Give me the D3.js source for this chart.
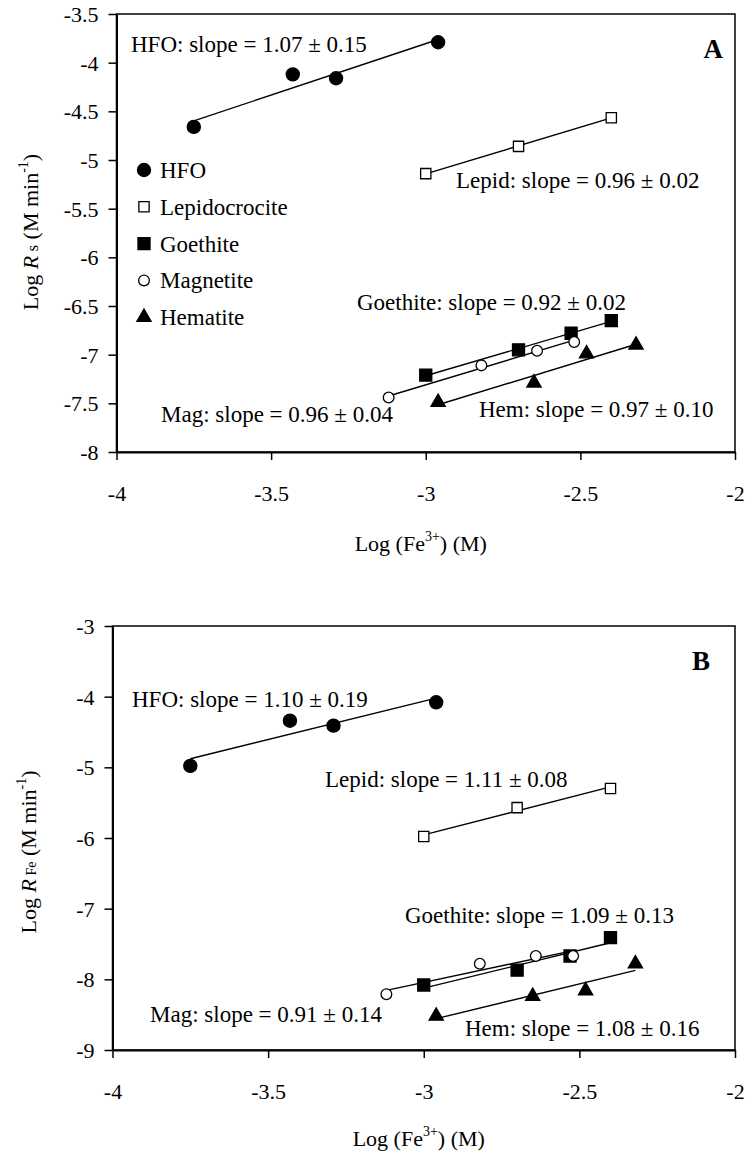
<!DOCTYPE html>
<html><head><meta charset="utf-8">
<script src="https://cdn.jsdelivr.net/npm/d3@7"></script>
<style>
html,body{margin:0;padding:0;background:#fff;}
text{font-family:"Liberation Serif","Times New Roman",serif;fill:#000;}
</style></head>
<body><svg id="c" width="747" height="1157"></svg>
<script>
// ---------- data ----------
const xTicks = [-4, -3.5, -3, -2.5, -2];
const yTicksA = [-3.5, -4, -4.5, -5, -5.5, -6, -6.5, -7, -7.5, -8];
const yTicksB = [-3, -4, -5, -6, -7, -8, -9];

const xHFO = [-3.75, -3.43, -3.29, -2.96];
const xLepid = [-3.00, -2.70, -2.40];
const xGoethite = [-3.00, -2.70, -2.53, -2.40];
const xMag = [-3.12, -2.82, -2.64, -2.52];
const xHem = [-2.96, -2.65, -2.48, -2.32];

// Panel A: Log Rs
const aHFO = [-4.66, -4.12, -4.16, -3.79];
const aLepid = [-5.14, -4.86, -4.565];
const aGoethite = [-7.21, -6.95, -6.78, -6.65];
const aMag = [-7.44, -7.11, -6.96, -6.87];
const aHem = [-7.49, -7.29, -6.99, -6.90];

// Panel B: Log RFe
const bHFO = [-4.98, -4.34, -4.41, -4.08];
const bLepid = [-5.98, -5.57, -5.30];
const bGoethite = [-8.08, -7.87, -7.67, -7.41];
const bMag = [-8.21, -7.78, -7.67, -7.67];
const bHem = [-8.52, -8.24, -8.16, -7.78];

const legendNames = ["HFO", "Lepidocrocite", "Goethite", "Magnetite", "Hematite"];
const slopeA = ["HFO: slope = 1.07 \u00b1 0.15", "Lepid: slope = 0.96 \u00b1 0.02", "Goethite: slope = 0.92 \u00b1 0.02", "Mag: slope = 0.96 \u00b1 0.04", "Hem: slope = 0.97 \u00b1 0.10"];
const slopeB = ["HFO: slope = 1.10 \u00b1 0.19", "Lepid: slope = 1.11 \u00b1 0.08", "Goethite: slope = 1.09 \u00b1 0.13", "Mag: slope = 0.91 \u00b1 0.14", "Hem: slope = 1.08 \u00b1 0.16"];

// ---------- drawing ----------
const svg = d3.select("#c");
const markerStyles = [
  {type: d3.symbolCircle, size: 135, fill: "#000"},
  {type: d3.symbolSquare, size: 105, fill: "#fff"},
  {type: d3.symbolSquare, size: 145, fill: "#000"},
  {type: d3.symbolCircle, size: 90, fill: "#fff"},
  {type: d3.symbolTriangle, size: 88, fill: "#000"}
];
const fmt = d => String(d);

function fit(xs, ys) {
  const n = xs.length, mx = d3.mean(xs), my = d3.mean(ys);
  let sxy = 0, sxx = 0;
  for (let i = 0; i < n; i++) { sxy += (xs[i]-mx)*(ys[i]-my); sxx += (xs[i]-mx)**2; }
  const m = sxy/sxx, b = my - m*mx;
  const x0 = d3.min(xs), x1 = d3.max(xs);
  return [[x0, m*x0+b], [x1, m*x1+b]];
}

function panel(opt) {
  const g = svg.append("g");
  const x = d3.scaleLinear().domain([-4, -2]).range([opt.left, opt.right]);
  const y = d3.scaleLinear().domain(opt.ydom).range([opt.bottom, opt.top]);

  // frame
  g.append("rect").attr("x", opt.left).attr("y", opt.top)
    .attr("width", opt.right-opt.left).attr("height", opt.bottom-opt.top)
    .attr("fill", "none").attr("stroke", "#000").attr("stroke-width", 1.5);

  const xa = g.append("g").attr("transform", `translate(0,${opt.bottom})`)
    .call(d3.axisBottom(x).tickValues(xTicks).tickSize(8).tickSizeOuter(0).tickPadding(0).tickFormat(fmt));
  xa.select(".domain").attr("stroke-width", 2);
  xa.selectAll(".tick line").attr("stroke-width", 1.5);
  xa.selectAll(".tick text").attr("font-size", 22).attr("dy", null).attr("y", 49);

  const ya = g.append("g").attr("transform", `translate(${opt.left},0)`)
    .call(d3.axisLeft(y).tickValues(opt.yticks).tickSize(8).tickSizeOuter(0).tickPadding(10).tickFormat(fmt));
  ya.select(".domain").attr("stroke-width", 2);
  ya.selectAll(".tick line").attr("stroke-width", 1.5);
  ya.selectAll(".tick text").attr("font-size", 22).attr("dy", "0.34em");
  g.selectAll(".tick text").style("font-family", '"Liberation Serif",serif').attr("fill", "#000");

  // regression lines
  opt.series.forEach((s) => {
    const f = fit(s.x, s.y);
    g.append("line").attr("x1", x(f[0][0])).attr("y1", y(f[0][1]))
      .attr("x2", x(f[1][0])).attr("y2", y(f[1][1]))
      .attr("stroke", "#000").attr("stroke-width", 1.4);
  });
  // markers
  opt.series.forEach((s, i) => {
    const st = markerStyles[i];
    g.selectAll(null).data(s.x.map((v, j) => [v, s.y[j]])).enter().append("path")
      .attr("d", d3.symbol().type(st.type).size(st.size))
      .attr("transform", d => `translate(${x(d[0])},${y(d[1])})`)
      .attr("fill", st.fill).attr("stroke", "#000").attr("stroke-width", 1.3);
  });
  // slope labels
  opt.labels.forEach((L, i) => {
    g.append("text").attr("x", L[0]).attr("y", L[1]).attr("font-size", 23).text(opt.slopes[i]);
  });
  // panel letter
  g.append("text").attr("x", opt.letterPos[0]).attr("y", opt.letterPos[1])
    .attr("font-size", 27).attr("font-weight", "bold").attr("text-anchor", "end").text(opt.letter);

  // x title
  const xt = g.append("text").attr("x", (opt.left+opt.right)/2 - 5).attr("y", opt.xTitleY)
    .attr("text-anchor", "middle").attr("font-size", 22);
  xt.append("tspan").text("Log (Fe");
  xt.append("tspan").attr("font-size", 14).attr("dy", -10).text("3+");
  xt.append("tspan").attr("dy", 10).text(") (M)");

  // y title
  const yt = g.append("text").attr("transform", `translate(${opt.yTitleX},${opt.yTitleY}) rotate(-90)`)
    .attr("text-anchor", "middle").attr("font-size", 22);
  yt.append("tspan").text("Log ");
  yt.append("tspan").attr("font-style", "italic").text("R");
  yt.append("tspan").attr("font-size", opt.subSize).text(opt.sub);
  yt.append("tspan").text(" (M min");
  yt.append("tspan").attr("font-size", 14).attr("dy", -10).text("-1");
  yt.append("tspan").attr("dy", 10).text(")");
  return {g, x, y};
}

const A = panel({
  left: 116.5, right: 735, top: 14, bottom: 452, ydom: [-8, -3.5], yticks: yTicksA,
  series: [{x: xHFO, y: aHFO}, {x: xLepid, y: aLepid}, {x: xGoethite, y: aGoethite}, {x: xMag, y: aMag}, {x: xHem, y: aHem}],
  slopes: slopeA,
  labels: [[131, 52], [456, 188], [357, 310], [161, 422], [479, 417]],
  letter: "A", letterPos: [723, 58],
  xTitleY: 551, yTitleX: 38, yTitleY: 232, sub: " s", subSize: 17
});

// legend in panel A
legendNames.forEach((name, i) => {
  const st = markerStyles[i];
  const yy = A.y(-5.0) + 10 + i * 36.8;
  A.g.append("path").attr("d", d3.symbol().type(st.type).size(st.size))
    .attr("transform", `translate(144,${yy})`)
    .attr("fill", st.fill).attr("stroke", "#000").attr("stroke-width", 1.3);
  A.g.append("text").attr("x", 160).attr("y", yy + 8).attr("font-size", 23).text(name);
});

panel({
  left: 112.5, right: 735, top: 626, bottom: 1050, ydom: [-9, -3], yticks: yTicksB,
  series: [{x: xHFO, y: bHFO}, {x: xLepid, y: bLepid}, {x: xGoethite, y: bGoethite}, {x: xMag, y: bMag}, {x: xHem, y: bHem}],
  slopes: slopeB,
  labels: [[132, 707], [325, 787], [405, 923], [150, 1022], [465, 1036]],
  letter: "B", letterPos: [710, 670],
  xTitleY: 1146, yTitleX: 36, yTitleY: 852, sub: " Fe", subSize: 14
});
</script></body></html>
